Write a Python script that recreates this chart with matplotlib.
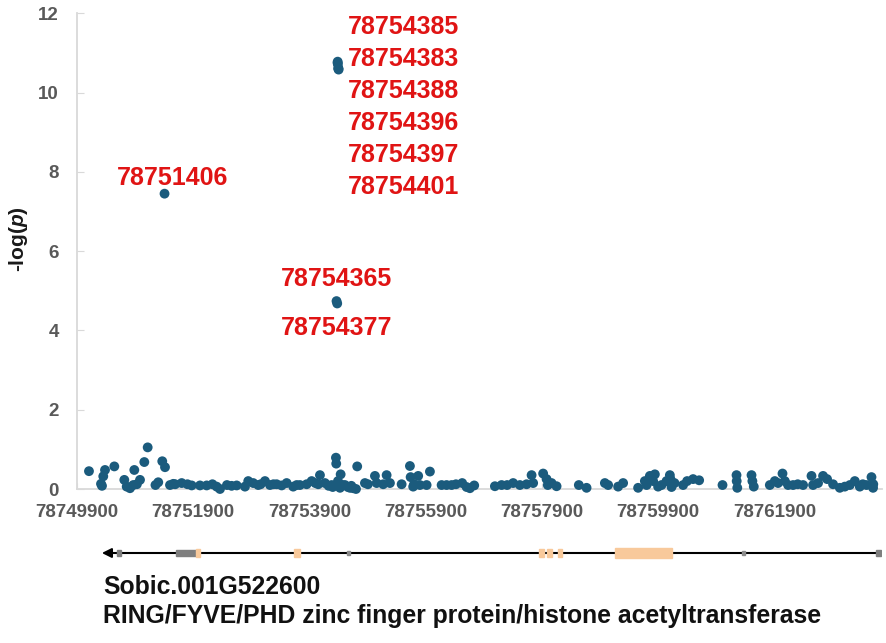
import matplotlib.pyplot as plt
from matplotlib.patches import Rectangle

plt.rcParams['font.family'] = ['Liberation Sans', 'DejaVu Sans']
plt.rcParams['mathtext.fontset'] = 'custom'
plt.rcParams['mathtext.rm'] = 'Liberation Sans:bold'
plt.rcParams['mathtext.it'] = 'Liberation Sans:italic:bold'

# background SNPs (position, -log p)
pos = [78750106, 78750313, 78750352, 78750382, 78750542, 78750714, 78750755, 78750812,
       78750868, 78750886, 78750984, 78751058, 78751116, 78751298, 78751367, 78751414,
       78751500, 78751556, 78751590, 78751701, 78751873, 78752016, 78752131, 78752303,
       78752360, 78752647, 78752790, 78752846, 78752932, 78753018, 78753134, 78753220,
       78753335, 78753421, 78753507, 78753620, 78753736, 78753851, 78753937, 78754050,
       78754080, 78754166, 78754281, 78754300, 78754355, 78754360, 78754390, 78754425,
       78754436, 78754510, 78754560, 78754596, 78754652, 78754700, 78754721, 78754854,
       78754905, 78755026, 78755055, 78755168, 78755227, 78755284, 78755485, 78755628,
       78755640, 78755684, 78755770, 78755800, 78755915, 78755972, 78756173, 78756259,
       78756345, 78756527, 78756603, 78756660, 78756734, 78757090, 78757205, 78757404,
       78757520, 78757635, 78757721, 78757748, 78757920, 78757979, 78758065, 78758151,
       78758534, 78758667, 78758982, 78759038, 78759210, 78759296, 78759554, 78759670,
       78759756, 78759812, 78759842, 78759898, 78759957, 78760043, 78760100, 78760110,
       78760129, 78760328, 78760397, 78760500, 78760604, 78761006, 78761247, 78761250,
       78761260, 78761505, 78761520, 78761544, 78761820, 78761906, 78761962, 78762038,
       78762078, 78762134, 78762220, 78762392, 78762537, 78762564, 78762736, 78762805,
       78762908, 78763024, 78763110, 78763196, 78763282, 78763368, 78763483, 78763569,
       78763596, 78763600,
       78750330, 78750930, 78751250, 78751800, 78752230, 78752480, 78752560, 78753060,
       78753280, 78753680, 78754000, 78754230, 78754470, 78754620, 78755700, 78756420,
       78757300, 78758000, 78759700, 78760180, 78762300, 78762650, 78763420]
logp = [0.45, 0.13, 0.32, 0.48, 0.57, 0.23, 0.06, 0.02,
        0.10, 0.48, 0.23, 0.68, 1.05, 0.17, 0.70, 0.55,
        0.10, 0.13, 0.12, 0.15, 0.09, 0.09, 0.09, 0.06,
        0.00, 0.09, 0.06, 0.20, 0.15, 0.10, 0.20, 0.10,
        0.12, 0.09, 0.15, 0.06, 0.10, 0.12, 0.20, 0.12,
        0.35, 0.15, 0.10, 0.05, 0.79, 0.64, 0.20, 0.03,
        0.37, 0.10, 0.05, 0.03, 0.02, 0.00, 0.57, 0.15,
        0.12, 0.33, 0.15, 0.12, 0.35, 0.15, 0.12, 0.58,
        0.30, 0.06, 0.33, 0.10, 0.10, 0.44, 0.10, 0.10,
        0.10, 0.15, 0.05, 0.02, 0.09, 0.07, 0.10, 0.15,
        0.10, 0.12, 0.35, 0.15, 0.39, 0.25, 0.15, 0.07,
        0.10, 0.03, 0.15, 0.10, 0.06, 0.15, 0.03, 0.20,
        0.33, 0.20, 0.37, 0.06, 0.10, 0.20, 0.35, 0.25,
        0.05, 0.10, 0.20, 0.25, 0.22, 0.10, 0.35, 0.20,
        0.03, 0.35, 0.20, 0.06, 0.10, 0.20, 0.15, 0.39,
        0.20, 0.10, 0.10, 0.10, 0.33, 0.10, 0.33, 0.25,
        0.12, 0.03, 0.06, 0.10, 0.20, 0.06, 0.10, 0.30,
        0.03, 0.12,
        0.08, 0.12, 0.10, 0.12, 0.12, 0.10, 0.08, 0.12,
        0.12, 0.10, 0.15, 0.08, 0.10, 0.08, 0.12, 0.12,
        0.10, 0.10, 0.10, 0.15, 0.12, 0.15, 0.12]

# significant SNPs
sig_pos = [78751406, 78754385, 78754383, 78754388, 78754396, 78754397, 78754401,
           78754365, 78754377]
sig_logp = [7.45, 10.78, 10.75, 10.72, 10.62, 10.60, 10.58, 4.74, 4.68]

lone_label = '78751406'
top_labels = ['78754385', '78754383', '78754388', '78754396', '78754397', '78754401']
mid_labels = ['78754365', '78754377']

x_ticks = [78749900, 78751900, 78753900, 78755900, 78757900, 78759900, 78761900]
y_ticks = [0, 2, 4, 6, 8, 10, 12]

# gene model (Sobic.001G522600, minus strand)
gene_start, gene_end = 78750280, 78763729
utr_blocks = [(78750588, 78750657), (78751603, 78751947), (78763643, 78763729)]
exon_blocks = [(78751947, 78752016), (78753632, 78753736), (78757851, 78757937),
               (78757984, 78758070), (78758173, 78758242), (78759154, 78760134)]
small_marks = [78754570, 78761372]

dot = '#1b5b7d'
red = '#e01414'
grid_gray = '#d9d9d9'
label_gray = '#595959'

fig = plt.figure(figsize=(8.86, 6.43), dpi=100)
ax = fig.add_axes([77 / 886, 1 - 489 / 643, 805 / 886, 475.7 / 643])

ax.scatter(pos, logp, s=50, color=dot, edgecolor='none', clip_on=False, zorder=3)
ax.scatter(sig_pos, sig_logp, s=50, color=dot, edgecolor='none', clip_on=False, zorder=3)

ax.set_xlim(78749900, 78763750)
ax.set_ylim(0, 12)
ax.set_xticks(x_ticks)
ax.set_xticklabels([str(t) for t in x_ticks])
ax.set_yticks(y_ticks)
for s in ['top', 'right']:
    ax.spines[s].set_visible(False)
for s in ['left', 'bottom']:
    ax.spines[s].set_color(grid_gray)
    ax.spines[s].set_linewidth(1.3)
ax.tick_params(axis='y', direction='in', length=5, color=grid_gray, pad=13,
               labelsize=13.5, labelcolor=label_gray)
ax.tick_params(axis='x', direction='in', length=4, color=grid_gray, pad=11,
               labelsize=13.5, labelcolor=label_gray)
for lbl in ax.get_xticklabels() + ax.get_yticklabels():
    lbl.set_fontweight('bold')

ax.set_ylabel('-log($p$)', fontsize=15, fontweight='bold', color='#1a1a1a')
ax.yaxis.set_label_coords(-0.058, 0.525)

# labels for significant SNPs
ax.annotate(lone_label, xy=(sig_pos[0], sig_logp[0]), xytext=(8, 16),
            textcoords='offset pixels', ha='center', va='center',
            fontsize=18, fontweight='bold', color=red)
for k, name in enumerate(top_labels):
    ax.annotate(name, xy=(sig_pos[1], sig_logp[1]), xytext=(10, 35 - 32 * k),
                textcoords='offset pixels', ha='left', va='center',
                fontsize=18, fontweight='bold', color=red)
ax.annotate(mid_labels[0], xy=(sig_pos[7], 4.71), xytext=(0, 23),
            textcoords='offset pixels', ha='center', va='center',
            fontsize=18, fontweight='bold', color=red)
ax.annotate(mid_labels[1], xy=(sig_pos[7], 4.71), xytext=(0, -26),
            textcoords='offset pixels', ha='center', va='center',
            fontsize=18, fontweight='bold', color=red)

# gene model track
gax = fig.add_axes([77 / 886, 1 - 570 / 643, 805 / 886, 34 / 643])
gax.set_xlim(ax.get_xlim())
gax.set_ylim(-1, 1)
gax.axis('off')
gax.plot([gene_start + 150, gene_end], [0, 0], color='black', lw=1.5, zorder=1)
gax.annotate('', xy=(gene_start, 0), xytext=(gene_start + 250, 0),
             arrowprops=dict(arrowstyle='-|>', color='black', lw=1.5, mutation_scale=14))
for a, b in utr_blocks:
    gax.add_patch(Rectangle((a, -0.18), b - a, 0.36, color='#7f7f7f', zorder=2))
for a, b in exon_blocks:
    h = 0.28 if b - a > 500 else 0.24
    gax.add_patch(Rectangle((a, -h), b - a, 2 * h, color='#f8c99b', zorder=3))
for m in small_marks:
    gax.add_patch(Rectangle((m - 25, -0.1), 50, 0.2, color='#8c8c8c', zorder=2))

fig.text(103 / 886, 1 - 587 / 643, 'Sobic.001G522600', fontsize=17.8, fontweight='bold',
         va='center', color='#111111')
fig.text(103 / 886, 1 - 616 / 643, 'RING/FYVE/PHD zinc finger protein/histone acetyltransferase',
         fontsize=17.8, fontweight='bold', va='center', color='#111111')

fig.savefig('out.png', dpi=100)
